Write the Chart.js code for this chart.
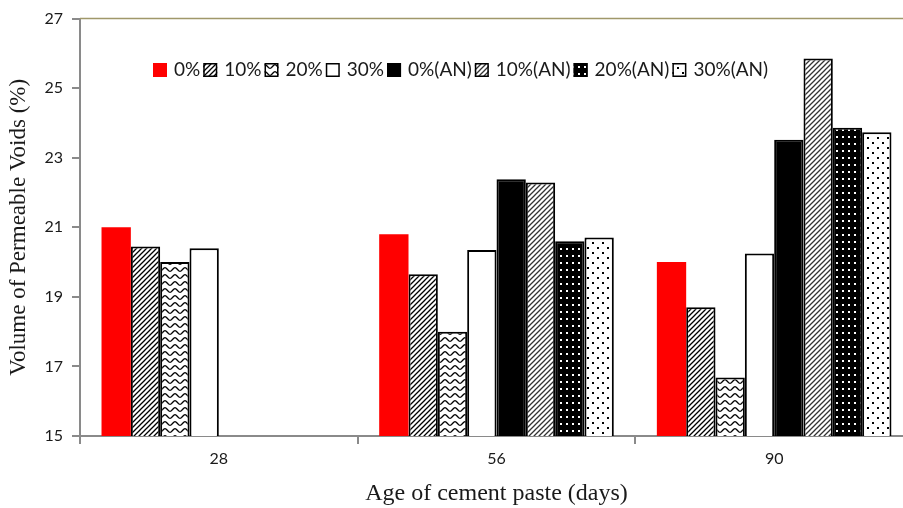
<!DOCTYPE html>
<html>
<head>
<meta charset="utf-8">
<script src="https://cdn.jsdelivr.net/npm/chart.js@4"></script>
<style>
  html, body { margin: 0; padding: 0; background: #fff; overflow: hidden; }
  #wrap { width: 913px; height: 508px; }
</style>
</head>
<body>
<div id="wrap"><canvas id="voidsChart" width="913" height="508"></canvas></div>
<script>
// chart data
const ages = ["28", "56", "90"];
const seriesNames = ["0%", "10%", "20%", "30%", "0%(AN)", "10%(AN)", "20%(AN)", "30%(AN)"];
const v0 = [21.0, 20.8, 20.0];
const v10 = [20.45, 19.65, 18.7];
const v20 = [20.0, 18.0, 16.68];
const v30 = [20.4, 20.35, 20.25];
const v0AN = [null, 22.38, 23.52];
const v10AN = [null, 22.29, 25.85];
const v20AN = [null, 20.6, 23.86];
const v30AN = [null, 20.71, 23.73];
const yTicks = [15, 17, 19, 21, 23, 25, 27];

const tickFont = { family: "Lato", size: 16 };
const titleFont = { family: "Liberation Serif", size: 24 };
const textColor = "#1a1a1a";
const axisGray = "#8a8a8a";

function makePattern(w, h, draw) {
  const c = document.createElement("canvas");
  c.width = w;
  c.height = h;
  const g = c.getContext("2d");
  draw(g, w, h);
  return g.createPattern(c, "repeat");
}

function hatch(color) {
  return makePattern(5, 5, (g, w, h) => {
    g.fillStyle = "#fff";
    g.fillRect(0, 0, w, h);
    g.strokeStyle = color;
    g.lineWidth = 1.3;
    g.beginPath();
    g.moveTo(-1, h + 1); g.lineTo(w + 1, -1);
    g.moveTo(-1, 1); g.lineTo(1, -1);
    g.moveTo(w - 1, h + 1); g.lineTo(w + 1, h - 1);
    g.stroke();
  });
}

const wave = makePattern(10, 7, (g, w, h) => {
  g.fillStyle = "#fff";
  g.fillRect(0, 0, w, h);
  g.strokeStyle = "#000";
  g.lineWidth = 1.3;
  g.beginPath();
  for (let x = 0; x <= w; x += 0.5) {
    const y = 3.5 + 1.8 * Math.cos((2 * Math.PI * x) / w);
    if (x === 0) g.moveTo(x, y); else g.lineTo(x, y);
  }
  g.stroke();
});

const whiteDotsOnBlack = makePattern(6, 7, (g, w, h) => {
  g.fillStyle = "#000";
  g.fillRect(0, 0, w, h);
  g.fillStyle = "#fff";
  g.fillRect(2, 3, 2, 2);
});

const blackDotsOnWhite = makePattern(10, 10, (g, w, h) => {
  g.fillStyle = "#fff";
  g.fillRect(0, 0, w, h);
  g.fillStyle = "#000";
  g.fillRect(2, 2, 2, 2);
  g.fillRect(7, 7, 2, 2);
});

const fills = ["#ff0000", hatch("#000"), wave, "#ffffff", "#000000", hatch("#333"), whiteDotsOnBlack, blackDotsOnWhite];
const values = [v0, v10, v20, v30, v0AN, v10AN, v20AN, v30AN];

const datasets = seriesNames.map((name, i) => ({
  label: name,
  data: values[i],
  backgroundColor: fills[i],
  borderColor: i === 0 ? "#ff0000" : "#000",
  borderWidth: i === 0 ? 0 : 2,
}));

// top frame line and in-plot legend
const frameAndLegend = {
  id: "frameAndLegend",
  afterDraw(chart) {
    const { ctx, chartArea } = chart;
    ctx.save();
    ctx.strokeStyle = "#a0986a";
    ctx.lineWidth = 1.5;
    ctx.beginPath();
    ctx.moveTo(chartArea.left, chartArea.top);
    ctx.lineTo(chartArea.right, chartArea.top);
    ctx.stroke();

    ctx.font = "19px Lato";
    ctx.textBaseline = "middle";
    let x = 153;
    const cy = 70;
    const box = 14;
    chart.data.datasets.forEach((ds) => {
      ctx.fillStyle = ds.backgroundColor;
      ctx.fillRect(x, cy - box / 2, box, box);
      if (ds.borderWidth) {
        ctx.strokeStyle = "#000";
        ctx.lineWidth = 1.5;
        ctx.strokeRect(x + 0.75, cy - box / 2 + 0.75, box - 1.5, box - 1.5);
      }
      x += box + 7;
      ctx.fillStyle = textColor;
      ctx.fillText(ds.label, x, cy);
      x += ctx.measureText(ds.label).width + 3;
    });
    ctx.restore();
  },
};

new Chart(document.getElementById("voidsChart"), {
  type: "bar",
  data: { labels: ages, datasets: datasets },
  options: {
    responsive: false,
    animation: false,
    layout: { padding: { top: 15, right: 0, left: 0, bottom: 0 } },
    datasets: { bar: { categoryPercentage: 0.845, barPercentage: 1.0 } },
    plugins: { legend: { display: false }, tooltip: { enabled: false } },
    scales: {
      x: {
        afterFit: (s) => { s.height = 72; },
        grid: { offset: true, drawOnChartArea: false, tickLength: 8, color: axisGray, lineWidth: 2 },
        border: { color: axisGray, width: 2 },
        ticks: { font: tickFont, color: textColor, padding: 5 },
        title: {
          display: true,
          text: "Age of cement paste (days)",
          font: titleFont,
          color: textColor,
          padding: { top: 0, bottom: 0 },
        },
      },
      y: {
        min: 15,
        max: 27,
        afterFit: (s) => { s.width = 80; },
        afterBuildTicks: (s) => { s.ticks = yTicks.map((v) => ({ value: v })); },
        grid: { drawOnChartArea: false, tickLength: 8, color: axisGray, lineWidth: 2 },
        border: { color: axisGray, width: 2 },
        ticks: { font: tickFont, color: textColor, padding: 9 },
        title: {
          display: true,
          text: "Volume of Permeable Voids (%)",
          font: { family: "Liberation Serif", size: 23 },
          color: textColor,
          padding: { top: 5, bottom: 0 },
        },
      },
    },
  },
  plugins: [frameAndLegend],
});
</script>
</body>
</html>
